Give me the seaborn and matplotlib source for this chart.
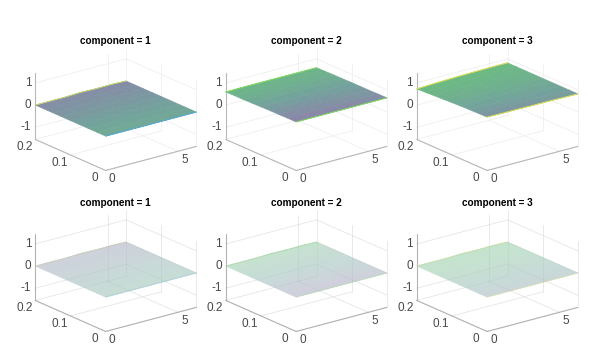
import numpy as np
import seaborn as sns
import matplotlib.pyplot as plt
from mpl_toolkits.mplot3d import proj3d

sns.set_theme(style="white")
plt.rcParams["font.family"] = ["Liberation Sans", "DejaVu Sans"]

# data
x_vals = [0, 1.05, 2.09, 3.14, 4.19, 5.24, 6.28]
y_vals = [0, 0.025, 0.05, 0.075, 0.1, 0.125, 0.15, 0.175, 0.2]
x_ticks = [0, 5]
y_ticks = [0, 0.1, 0.2]
z_ticks = [-1, 0, 1]
x_ticklabels = ["0", "5"]
y_ticklabels = ["0", "0.1", "0.2"]
z_ticklabels = ["-1", "0", "1"]
titles = ["component = 1", "component = 2", "component = 3"]

# height of the surfaces, rows are y, columns are x
z_comp1 = [[0.00, 0.00, 0.00, 0.00, 0.00, 0.00, 0.00],
           [0.00, 0.00, 0.00, 0.00, 0.00, 0.00, 0.00],
           [0.00, 0.00, 0.00, 0.00, 0.00, 0.00, 0.00],
           [0.00, 0.00, 0.00, 0.00, 0.00, 0.00, 0.00],
           [0.00, 0.00, 0.00, 0.00, 0.00, 0.00, 0.00],
           [0.00, 0.00, 0.00, 0.00, 0.00, 0.00, 0.00],
           [0.00, 0.00, 0.00, 0.01, 0.00, 0.01, 0.00],
           [0.00, 0.00, 0.00, 0.01, 0.01, 0.01, 0.00],
           [0.00, 0.00, 0.00, 0.03, 0.01, 0.02, 0.00]]
z_comp2 = [[0.64, 0.64, 0.64, 0.64, 0.64, 0.64, 0.64],
           [0.64, 0.64, 0.64, 0.64, 0.64, 0.64, 0.64],
           [0.63, 0.63, 0.63, 0.63, 0.63, 0.63, 0.63],
           [0.63, 0.63, 0.63, 0.63, 0.63, 0.63, 0.63],
           [0.62, 0.62, 0.62, 0.62, 0.62, 0.62, 0.63],
           [0.61, 0.62, 0.62, 0.62, 0.62, 0.62, 0.62],
           [0.60, 0.61, 0.61, 0.61, 0.61, 0.61, 0.62],
           [0.60, 0.60, 0.61, 0.61, 0.61, 0.61, 0.61],
           [0.59, 0.60, 0.60, 0.60, 0.60, 0.60, 0.60]]
z_comp3 = [[0.86, 0.85, 0.85, 0.84, 0.84, 0.83, 0.82],
           [0.85, 0.85, 0.84, 0.84, 0.83, 0.83, 0.82],
           [0.84, 0.84, 0.83, 0.83, 0.83, 0.82, 0.82],
           [0.83, 0.83, 0.83, 0.83, 0.82, 0.82, 0.82],
           [0.81, 0.81, 0.82, 0.82, 0.82, 0.82, 0.82],
           [0.79, 0.80, 0.81, 0.81, 0.82, 0.82, 0.82],
           [0.77, 0.79, 0.80, 0.81, 0.81, 0.82, 0.82],
           [0.75, 0.77, 0.79, 0.80, 0.81, 0.82, 0.82],
           [0.73, 0.76, 0.78, 0.80, 0.81, 0.82, 0.82]]
z_flat = z_comp1

# colour value of the surfaces, 0 purple grey to 1 green
c_comp1 = [[0.62, 0.62, 0.61, 0.60, 0.59, 0.58, 0.56],
           [0.56, 0.56, 0.55, 0.54, 0.53, 0.52, 0.50],
           [0.49, 0.49, 0.48, 0.47, 0.47, 0.46, 0.44],
           [0.42, 0.42, 0.41, 0.41, 0.40, 0.39, 0.37],
           [0.35, 0.35, 0.34, 0.34, 0.33, 0.32, 0.30],
           [0.28, 0.28, 0.27, 0.27, 0.26, 0.25, 0.24],
           [0.21, 0.21, 0.20, 0.20, 0.19, 0.18, 0.17],
           [0.14, 0.14, 0.13, 0.13, 0.12, 0.12, 0.11],
           [0.08, 0.08, 0.07, 0.07, 0.07, 0.06, 0.06]]
c_comp2 = [[0.02, 0.03, 0.05, 0.08, 0.12, 0.16, 0.22],
           [0.14, 0.15, 0.17, 0.20, 0.23, 0.26, 0.31],
           [0.27, 0.28, 0.30, 0.32, 0.34, 0.37, 0.41],
           [0.40, 0.41, 0.42, 0.44, 0.45, 0.47, 0.50],
           [0.53, 0.54, 0.55, 0.55, 0.56, 0.57, 0.59],
           [0.65, 0.66, 0.66, 0.66, 0.66, 0.67, 0.68],
           [0.76, 0.76, 0.76, 0.76, 0.76, 0.76, 0.76],
           [0.86, 0.86, 0.86, 0.85, 0.85, 0.84, 0.83],
           [0.95, 0.96, 0.96, 0.95, 0.94, 0.92, 0.90]]
c_comp3 = [[0.30, 0.32, 0.34, 0.36, 0.38, 0.40, 0.42],
           [0.41, 0.43, 0.44, 0.46, 0.47, 0.49, 0.51],
           [0.52, 0.54, 0.55, 0.56, 0.57, 0.58, 0.60],
           [0.62, 0.64, 0.65, 0.66, 0.66, 0.67, 0.68],
           [0.72, 0.74, 0.75, 0.76, 0.76, 0.76, 0.76],
           [0.80, 0.82, 0.83, 0.83, 0.83, 0.83, 0.83],
           [0.88, 0.90, 0.90, 0.90, 0.90, 0.90, 0.90],
           [0.95, 0.96, 0.96, 0.96, 0.96, 0.96, 0.96],
           [1.00, 1.00, 1.00, 1.00, 1.00, 1.00, 1.00]]

top_z = [z_comp1, z_comp2, z_comp3]
bottom_z = [z_flat, z_flat, z_flat]
colour_tables = [c_comp1, c_comp2, c_comp3]

# style
cmap = sns.blend_palette(["#8a86a8", "#73a39c", "#6cbb82"], as_cmap=True)
back_edge = ["#c9d56a", "#7fdc5a", "#e2e04e"]
front_edge = ["#4fa6d8", "#7fdc5a", "#e2e04e"]
text_color = "#484848"
axis_color = "#b8b8b8"
grid_color = "#efefef"
x_lim = (0, 6.28)
y_lim = (0, 0.2)
z_lim = (-1.55, 1.45)

W, H = 594, 355
S = 172
centers_x = [113.5, 304, 495]
centers_y = [112, 273]
title_x = [115, 306, 497]
title_y = [41, 203]

fig = plt.figure(figsize=(W / 100, H / 100), dpi=100, facecolor="white")


def draw_grid(ax, color, zorder):
    for xt in x_ticks:
        ax.plot([xt, xt], y_lim, [z_lim[0]] * 2, color=color, lw=0.6, zorder=zorder)
        ax.plot([xt, xt], [y_lim[1]] * 2, z_lim, color=color, lw=0.6, zorder=zorder)
    for yt in y_ticks:
        ax.plot(x_lim, [yt, yt], [z_lim[0]] * 2, color=color, lw=0.6, zorder=zorder)
        ax.plot([x_lim[1]] * 2, [yt, yt], z_lim, color=color, lw=0.6, zorder=zorder)
    for zt in z_ticks:
        ax.plot(x_lim, [y_lim[1]] * 2, [zt, zt], color=color, lw=0.6, zorder=zorder)
        ax.plot([x_lim[1]] * 2, y_lim, [zt, zt], color=color, lw=0.6, zorder=zorder)


def tick_text(ax, x, y, z, label, dx, dy, ha="center"):
    # project the tick to the axes plane, then offset the label in pixels
    px, py, _ = proj3d.proj_transform(x, y, z, ax.get_proj())
    ax.annotate(label, xy=(px, py), xycoords="data", xytext=(dx, dy),
                textcoords="offset pixels", color=text_color, fontsize=8.5,
                ha=ha, va="center", annotation_clip=False)


def draw_panel(col, row, z_table, alpha, edge_alpha):
    rect = [(centers_x[col] - S / 2) / W, 1 - (centers_y[row] + S / 2) / H, S / W, S / H]
    ax = fig.add_axes(rect, projection="3d", proj_type="ortho", computed_zorder=False)
    ax.set_axis_off()
    ax.patch.set_alpha(0)
    ax.set_box_aspect((114, 114, 70.2))
    ax.view_init(elev=20, azim=-127.8)
    ax.set_xlim(*x_lim)
    ax.set_ylim(*y_lim)
    ax.set_zlim(*z_lim)

    draw_grid(ax, grid_color, 1)

    # axis lines
    ax.plot([0, 0], [y_lim[1]] * 2, z_lim, color=axis_color, lw=0.8, zorder=2)
    ax.plot([0, 0], y_lim, [z_lim[0]] * 2, color=axis_color, lw=0.8, zorder=2)
    ax.plot(x_lim, [0, 0], [z_lim[0]] * 2, color=axis_color, lw=0.8, zorder=2)

    # the surface, transparency blended by hand so the cells leave no seams
    X, Y = np.meshgrid(x_vals, y_vals)
    Z = np.array(z_table)
    colours = cmap(np.array(colour_tables[col]))
    colours[..., :3] = alpha * colours[..., :3] + (1 - alpha)
    ax.plot_surface(X, Y, Z, facecolors=colours, rstride=1, cstride=1, shade=False,
                    linewidth=0.4, antialiased=True, zorder=3)
    if alpha < 1:
        draw_grid(ax, (0, 0, 0, 0.035), 4)
    ax.plot(x_vals, [y_vals[-1]] * len(x_vals), Z[-1], color=back_edge[col], lw=0.7,
            alpha=edge_alpha, zorder=5)
    ax.plot(x_vals, [y_vals[0]] * len(x_vals), Z[0], color=front_edge[col], lw=0.7,
            alpha=edge_alpha, zorder=5)

    # tick labels
    for xt, label in zip(x_ticks, x_ticklabels):
        tick_text(ax, xt, 0, z_lim[0], label, 6.5, -9)
    for yt, label in zip(y_ticks, y_ticklabels):
        tick_text(ax, 0, yt, z_lim[0], label, -11, -8)
    for zt, label in zip(z_ticks, z_ticklabels):
        tick_text(ax, 0, y_lim[1], zt, label, -4, 0, ha="right")

    fig.text(title_x[col] / W, 1 - title_y[row] / H, titles[col], color="black",
             fontsize=7.2, fontweight="bold", ha="center", va="center")


for i in range(3):
    draw_panel(i, 0, top_z[i], 1.0, 1.0)
    draw_panel(i, 1, bottom_z[i], 0.4, 0.25)

fig.savefig("out.png", dpi=100)
